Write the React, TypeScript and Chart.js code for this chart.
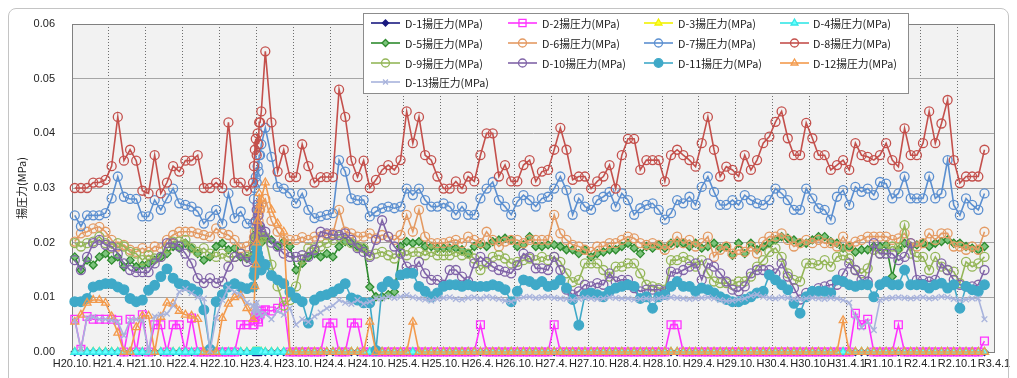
import React, { useEffect, useRef } from 'react';
import { Chart, registerables } from 'chart.js';
import { drawPoint } from 'chart.js/helpers';

Chart.register(...registerables);

// ---- tick labels (every 6 months from H20.10 to R3.4) ----
const LABELS = [
  'H20.10.', 'H21.4.', 'H21.10.', 'H22.4.', 'H22.10.', 'H23.4.', 'H23.10.', 'H24.4.', 'H24.10.',
  'H25.4.', 'H25.10.', 'H26.4.', 'H26.10.', 'H27.4.', 'H27.10.', 'H28.4.', 'H28.10.', 'H29.4.',
  'H29.10.', 'H30.4.', 'H30.10.', 'H31.4.1', 'R1.10.1', 'R2.4.1', 'R2.10.1', 'R3.4.1',
];
const Y_TICKS = [0, 0.01, 0.02, 0.03, 0.04, 0.05, 0.06];

// monthly measurements, month 0 = H20.10, measured mid-month
const MEASURE_DAY = 0.45;
// extra readings just after the March 2011 earthquake (month offsets)
const QUAKE_T = [29.6, 29.75, 29.9, 30.05, 30.2, 30.35, 30.6, 30.8];

const NAMES = [
  'D-1揚圧力(MPa)', 'D-2揚圧力(MPa)', 'D-3揚圧力(MPa)', 'D-4揚圧力(MPa)',
  'D-5揚圧力(MPa)', 'D-6揚圧力(MPa)', 'D-7揚圧力(MPa)', 'D-8揚圧力(MPa)',
  'D-9揚圧力(MPa)', 'D-10揚圧力(MPa)', 'D-11揚圧力(MPa)', 'D-12揚圧力(MPa)',
  'D-13揚圧力(MPa)',
];

const D1 = [
  0, 0, 0, 0, 0, 0, 0, 0, 0, 0, 0, 0, 0, 0, 0, 0, 0, 0, 0, 0,
  0, 0, 0, 0, 0, 0, 0, 0, 0, 0, 0, 0, 0, 0, 0, 0, 0, 0, 0, 0,
  0, 0, 0, 0, 0, 0, 0, 0, 0, 0, 0, 0, 0, 0, 0, 0, 0, 0, 0, 0,
  0, 0, 0, 0, 0, 0, 0, 0, 0, 0, 0, 0, 0, 0, 0, 0, 0, 0, 0, 0,
  0, 0, 0, 0, 0, 0, 0, 0, 0, 0, 0, 0, 0, 0, 0, 0, 0, 0, 0, 0,
  0, 0, 0, 0, 0, 0, 0, 0, 0, 0, 0, 0, 0, 0, 0, 0, 0, 0, 0, 0,
  0, 0, 0, 0, 0, 0, 0, 0, 0, 0, 0, 0, 0, 0, 0, 0, 0, 0, 0, 0,
  0, 0, 0, 0, 0, 0, 0, 0, 0,
];
const D1Q = [0, 0, 0, 0, 0, 0, 0, 0];

const D2 = [
  0.006, 0.0005, 0.0065, 0.006, 0.006, 0.006, 0.006, 0.0058, 0, 0.006,
  0, 0.0068, 0, 0.005, 0.005, 0, 0.005, 0.005, 0, 0.0062,
  0, 0, 0, 0, 0, 0, 0, 0.005, 0.005, 0.005,
  0.0075, 0.0077, 0.0075, 0.008, 0.0092, 0, 0, 0, 0, 0,
  0, 0.0053, 0.0053, 0, 0, 0.0053, 0.0053, 0, 0, 0,
  0, 0, 0, 0, 0, 0, 0, 0, 0, 0,
  0, 0, 0, 0, 0, 0, 0.005, 0, 0, 0,
  0, 0, 0, 0, 0, 0, 0, 0, 0.005, 0,
  0, 0, 0, 0, 0, 0, 0, 0, 0, 0,
  0, 0, 0, 0, 0, 0, 0, 0.005, 0.005, 0,
  0, 0, 0, 0, 0, 0, 0, 0, 0, 0,
  0, 0, 0, 0, 0, 0, 0, 0, 0, 0,
  0, 0, 0, 0, 0, 0, 0, 0.0071, 0.005, 0.006,
  0, 0, 0, 0, 0.005, 0, 0, 0, 0, 0,
  0, 0, 0, 0, 0, 0, 0, 0, 0.002,
];
const D2Q = [0.005, 0.006, 0.0065, 0.007, 0.006, 0.0055, 0.007, 0.0075];

const D3 = [
  0, 0, 0, 0, 0, 0, 0, 0, 0, 0, 0, 0, 0, 0, 0, 0, 0, 0, 0, 0,
  0, 0, 0, 0, 0, 0, 0, 0, 0, 0, 0, 0, 0, 0, 0, 0, 0, 0, 0, 0,
  0, 0, 0, 0, 0, 0, 0, 0, 0, 0, 0, 0, 0, 0, 0, 0, 0, 0, 0, 0,
  0, 0, 0, 0, 0, 0, 0, 0, 0, 0, 0, 0, 0, 0, 0, 0, 0, 0, 0, 0,
  0, 0, 0, 0, 0, 0, 0, 0, 0, 0, 0, 0, 0, 0, 0, 0, 0, 0, 0, 0,
  0, 0, 0, 0, 0, 0, 0, 0, 0, 0, 0, 0, 0, 0, 0, 0, 0, 0, 0, 0,
  0, 0, 0, 0, 0, 0, 0, 0, 0, 0, 0, 0, 0, 0, 0, 0, 0, 0, 0, 0,
  0, 0, 0, 0, 0, 0, 0, 0, 0,
];
const D3Q = [0, 0, 0, 0, 0, 0, 0, 0];

const D4 = [
  0, 0, 0, 0, 0, 0, 0, 0, 0, 0, 0, 0, 0, 0, 0, 0, 0, 0, 0, 0,
  0, 0, 0, 0, 0, 0, 0, 0, 0, 0, 0, 0, 0, 0, 0, 0, 0, 0, 0, 0,
  0, 0, 0, 0, 0, 0, 0, 0, 0, 0, 0, 0, 0, 0, 0, 0, 0, 0, 0, 0,
  0, 0, 0, 0, 0, 0, 0, 0, 0, 0, 0, 0, 0, 0, 0, 0, 0, 0, 0, 0,
  0, 0, 0, 0, 0, 0, 0, 0, 0, 0, 0, 0, 0, 0, 0, 0, 0, 0, 0, 0,
  0, 0, 0, 0, 0, 0, 0, 0, 0, 0, 0, 0, 0, 0, 0, 0, 0, 0, 0, 0,
  0, 0, 0, 0, 0, 0, 0, 0, 0, 0, 0, 0, 0, 0, 0, 0, 0, 0, 0, 0,
  0, 0, 0, 0, 0, 0, 0, 0, 0,
];
const D4Q = [0, 0, 0, 0, 0, 0, 0, 0];

const D5 = [
  0.0174, 0.015, 0.0168, 0.0159, 0.0174, 0.018, 0.0168, 0.0174, 0.0156, 0.0168,
  0.0156, 0.0159, 0.0162, 0.0168, 0.0174, 0.018, 0.0193, 0.019, 0.0199, 0.019,
  0.018, 0.0168, 0.0174, 0.0193, 0.0199, 0.0187, 0.019, 0.0174, 0.0171, 0.017,
  0.021, 0.021, 0.0205, 0.0193, 0.0202, 0.0193, 0.015, 0.0162, 0.0174, 0.018,
  0.0174, 0.018, 0.0174, 0.0193, 0.0202, 0.0199, 0.0193, 0.019, 0.0119, 0.0101,
  0.0101, 0.0105, 0.011, 0.0193, 0.0202, 0.0199, 0.0202, 0.0193, 0.0193, 0.019,
  0.019, 0.019, 0.019, 0.0187, 0.018, 0.0193, 0.0196, 0.0193, 0.0202, 0.0205,
  0.0208, 0.0205, 0.0193, 0.0196, 0.0211, 0.0193, 0.0193, 0.0196, 0.0196, 0.0193,
  0.0187, 0.0187, 0.018, 0.0187, 0.0174, 0.018, 0.0183, 0.0187, 0.0187, 0.0193,
  0.0199, 0.019, 0.018, 0.0193, 0.019, 0.0196, 0.019, 0.0199, 0.0199, 0.0199,
  0.0193, 0.0199, 0.019, 0.0193, 0.0199, 0.019, 0.0193, 0.0177, 0.0199, 0.018,
  0.0199, 0.0187, 0.0193, 0.0199, 0.0205, 0.0211, 0.0208, 0.0205, 0.0199, 0.0199,
  0.0205, 0.0211, 0.0211, 0.0202, 0.0199, 0.019, 0.0193, 0.0183, 0.0187, 0.0187,
  0.0193, 0.0193, 0.0196, 0.0138, 0.0187, 0.0199, 0.0193, 0.0196, 0.0199, 0.0193,
  0.0199, 0.0202, 0.0205, 0.0199, 0.0199, 0.0193, 0.019, 0.0187, 0.0193,
];
const D5Q = [0.018, 0.019, 0.02, 0.021, 0.022, 0.023, 0.021, 0.02];

const D6 = [
  0.0202, 0.0217, 0.022, 0.0226, 0.0229, 0.022, 0.0205, 0.0193, 0.0196, 0.0187,
  0.0183, 0.019, 0.0183, 0.0193, 0.019, 0.0205, 0.0214, 0.022, 0.022, 0.022,
  0.0217, 0.0214, 0.0211, 0.0226, 0.0217, 0.0214, 0.0205, 0.019, 0.0193, 0.02,
  0.026, 0.028, 0.024, 0.022, 0.0205, 0.0205, 0.0205, 0.021, 0.0205, 0.0211,
  0.0211, 0.0214, 0.0217, 0.026, 0.022, 0.0217, 0.0211, 0.0211, 0.0217, 0.0208,
  0.0214, 0.0211, 0.0205, 0.0214, 0.0251, 0.022, 0.026, 0.0211, 0.0199, 0.0199,
  0.0199, 0.0202, 0.0205, 0.0199, 0.0211, 0.0205, 0.0199, 0.022, 0.0205, 0.0193,
  0.0202, 0.0205, 0.0205, 0.0199, 0.0205, 0.0205, 0.0205, 0.0205, 0.0251, 0.0217,
  0.0205, 0.0196, 0.0193, 0.0187, 0.0183, 0.0193, 0.0193, 0.0199, 0.0199, 0.0205,
  0.0211, 0.0208, 0.0199, 0.0196, 0.0199, 0.0196, 0.0187, 0.0196, 0.0211, 0.0199,
  0.0205, 0.0193, 0.0199, 0.0211, 0.0174, 0.0187, 0.0193, 0.018, 0.0187, 0.0183,
  0.0193, 0.018, 0.0202, 0.0211, 0.0211, 0.0217, 0.0205, 0.0193, 0.0199, 0.0205,
  0.0199, 0.0205, 0.0199, 0.0199, 0.0193, 0.0211, 0.0193, 0.0202, 0.0205, 0.0211,
  0.0211, 0.0211, 0.0211, 0.0205, 0.0208, 0.0217, 0.0199, 0.0193, 0.0199, 0.0217,
  0.0205, 0.0217, 0.0217, 0.0193, 0.0193, 0.0187, 0.0193, 0.0187, 0.022,
];
const D6Q = [0.021, 0.022, 0.024, 0.023, 0.025, 0.024, 0.026, 0.027];

const D7 = [
  0.025, 0.023, 0.025, 0.025, 0.025, 0.0254, 0.0281, 0.0321, 0.0284, 0.028,
  0.028, 0.0248, 0.0248, 0.0278, 0.026, 0.0281, 0.0299, 0.0272, 0.0269, 0.0266,
  0.0257, 0.0235, 0.0248, 0.026, 0.0235, 0.029, 0.0245, 0.0257, 0.0235, 0.0235,
  0.036, 0.041, 0.0357, 0.0302, 0.0299, 0.029, 0.0272, 0.029, 0.026, 0.0245,
  0.0248, 0.0251, 0.0254, 0.0351, 0.033, 0.0281, 0.0278, 0.0278, 0.0248, 0.0257,
  0.0263, 0.0266, 0.0263, 0.0266, 0.0299, 0.0287, 0.0299, 0.0278, 0.0266, 0.0266,
  0.0272, 0.0266, 0.0251, 0.0266, 0.0251, 0.0251, 0.0281, 0.0299, 0.0311, 0.0278,
  0.0266, 0.0251, 0.0275, 0.0287, 0.0278, 0.0266, 0.0281, 0.0284, 0.0299, 0.0321,
  0.0296, 0.0251, 0.0281, 0.0266, 0.026, 0.0278, 0.0284, 0.0293, 0.0266, 0.029,
  0.0278, 0.0251, 0.0263, 0.0269, 0.0272, 0.026, 0.0242, 0.0254, 0.0278, 0.0272,
  0.0284, 0.0269, 0.0302, 0.0321, 0.0293, 0.0269, 0.0269, 0.0278, 0.0269, 0.0287,
  0.0278, 0.0272, 0.0269, 0.0278, 0.0299, 0.029, 0.0278, 0.026, 0.026, 0.0299,
  0.0281, 0.0263, 0.026, 0.0242, 0.0284, 0.0296, 0.0269, 0.0302, 0.0293, 0.0299,
  0.0287, 0.0311, 0.0308, 0.0281, 0.029, 0.0321, 0.0281, 0.0281, 0.0281, 0.0321,
  0.0281, 0.029, 0.0351, 0.0269, 0.025, 0.0281, 0.0269, 0.026, 0.029,
];
const D7Q = [0.028, 0.03, 0.032, 0.031, 0.034, 0.033, 0.036, 0.038];

const D8 = [
  0.03, 0.03, 0.03, 0.031, 0.031, 0.0315, 0.034, 0.043, 0.035, 0.037,
  0.035, 0.0295, 0.029, 0.036, 0.029, 0.031, 0.034, 0.033, 0.035, 0.035,
  0.036, 0.03, 0.03, 0.031, 0.03, 0.042, 0.031, 0.031, 0.0295, 0.031,
  0.042, 0.055, 0.042, 0.033, 0.037, 0.032, 0.032, 0.038, 0.034, 0.031,
  0.032, 0.032, 0.032, 0.048, 0.043, 0.035, 0.032, 0.035, 0.03, 0.0315,
  0.0333, 0.0342, 0.0333, 0.0351, 0.044, 0.0382, 0.043, 0.036, 0.0351, 0.0321,
  0.0299, 0.0299, 0.0312, 0.0299, 0.0321, 0.0312, 0.036, 0.04, 0.04, 0.0321,
  0.0342, 0.0312, 0.0312, 0.0342, 0.0351, 0.0312, 0.033, 0.0333, 0.037, 0.041,
  0.037, 0.0315, 0.0321, 0.0321, 0.0299, 0.0312, 0.0321, 0.0342, 0.0299, 0.036,
  0.039, 0.039, 0.0333, 0.0351, 0.0351, 0.0351, 0.0312, 0.036, 0.037, 0.036,
  0.0351, 0.0339, 0.0382, 0.043, 0.037, 0.0321, 0.0339, 0.0333, 0.0321, 0.036,
  0.0333, 0.0351, 0.0382, 0.0394, 0.0421, 0.044, 0.0391, 0.036, 0.036, 0.0419,
  0.0391, 0.036, 0.036, 0.0333, 0.0342, 0.0351, 0.0333, 0.0382, 0.036, 0.0357,
  0.0351, 0.036, 0.0382, 0.0351, 0.0339, 0.0409, 0.036, 0.036, 0.0382, 0.044,
  0.0382, 0.0418, 0.0461, 0.0351, 0.0309, 0.0321, 0.0321, 0.0321, 0.037,
];
const D8Q = [0.034, 0.037, 0.039, 0.036, 0.04, 0.038, 0.042, 0.044];

const D9 = [
  0.0199, 0.0193, 0.0199, 0.0202, 0.0211, 0.0199, 0.019, 0.0199, 0.0193, 0.0183,
  0.018, 0.0168, 0.0177, 0.0171, 0.0174, 0.019, 0.0202, 0.0202, 0.0205, 0.019,
  0.0183, 0.019, 0.018, 0.0174, 0.018, 0.0174, 0.0174, 0.018, 0.0174, 0.018,
  0.021, 0.021, 0.016, 0.012, 0.0085, 0.0095, 0.012, 0.017, 0.019, 0.019,
  0.0193, 0.0199, 0.0205, 0.0211, 0.0205, 0.0199, 0.0193, 0.019, 0.0177, 0.018,
  0.0183, 0.0177, 0.0171, 0.0183, 0.0177, 0.0183, 0.0183, 0.0177, 0.0183, 0.0177,
  0.0177, 0.0177, 0.0183, 0.0177, 0.018, 0.0171, 0.015, 0.0162, 0.0174, 0.0177,
  0.0171, 0.0162, 0.0165, 0.0168, 0.0171, 0.0168, 0.0174, 0.0168, 0.0174, 0.0165,
  0.0144, 0.0128, 0.0132, 0.0162, 0.0162, 0.0162, 0.015, 0.0138, 0.0156, 0.0156,
  0.0162, 0.0162, 0.0144, 0.0123, 0.012, 0.0117, 0.0114, 0.0168, 0.0168, 0.0174,
  0.0168, 0.0156, 0.0168, 0.0144, 0.0129, 0.0126, 0.0126, 0.0123, 0.0129, 0.0129,
  0.0138, 0.0156, 0.0168, 0.0183, 0.019, 0.0174, 0.0144, 0.0132, 0.0129, 0.0162,
  0.0162, 0.0159, 0.0168, 0.0156, 0.0174, 0.0177, 0.0171, 0.015, 0.0144, 0.0153,
  0.0187, 0.018, 0.0187, 0.0193, 0.019, 0.0232, 0.018, 0.0174, 0.0174, 0.015,
  0.0174, 0.0156, 0.015, 0.0147, 0.0126, 0.0165, 0.0156, 0.0162, 0.0174,
];
const D9Q = [0.019, 0.02, 0.021, 0.022, 0.021, 0.02, 0.022, 0.021];

const D10 = [
  0.0168, 0.015, 0.0174, 0.0199, 0.0205, 0.0196, 0.0193, 0.018, 0.0162, 0.015,
  0.0146, 0.0146, 0.0146, 0.0162, 0.0174, 0.0199, 0.0199, 0.0193, 0.018, 0.0162,
  0.0135, 0.0126, 0.0135, 0.0126, 0.0129, 0.0156, 0.0174, 0.018, 0.0165, 0.0168,
  0.023, 0.022, 0.02, 0.0193, 0.018, 0.0174, 0.0174, 0.0177, 0.0174, 0.0187,
  0.022, 0.0217, 0.0214, 0.0214, 0.0217, 0.0205, 0.019, 0.0183, 0.0174, 0.0205,
  0.0241, 0.0211, 0.0193, 0.018, 0.0156, 0.015, 0.0165, 0.0144, 0.0132, 0.0132,
  0.0123, 0.015, 0.015, 0.0138, 0.0129, 0.0162, 0.0174, 0.0165, 0.0156, 0.015,
  0.0147, 0.0144, 0.0159, 0.018, 0.0174, 0.0153, 0.0153, 0.015, 0.0174, 0.015,
  0.0114, 0.0105, 0.0111, 0.0123, 0.012, 0.0126, 0.0123, 0.0144, 0.0129, 0.0132,
  0.0132, 0.0117, 0.0111, 0.0114, 0.0114, 0.0114, 0.0111, 0.0147, 0.0144, 0.015,
  0.0156, 0.0162, 0.0132, 0.0162, 0.0156, 0.0144, 0.0129, 0.0114, 0.0111, 0.012,
  0.0144, 0.015, 0.015, 0.015, 0.0144, 0.0162, 0.0138, 0.0117, 0.0096, 0.0108,
  0.0111, 0.0117, 0.012, 0.0123, 0.0123, 0.0144, 0.0162, 0.015, 0.0132, 0.0129,
  0.0199, 0.018, 0.018, 0.018, 0.0168, 0.0174, 0.0199, 0.0132, 0.0132, 0.0129,
  0.0132, 0.0162, 0.015, 0.0132, 0.0123, 0.012, 0.012, 0.0123, 0.015,
];
const D10Q = [0.019, 0.021, 0.024, 0.026, 0.027, 0.025, 0.023, 0.022];

const D11 = [
  0.0092, 0.0092, 0.0098, 0.0119, 0.0122, 0.0125, 0.0125, 0.0119, 0.0114, 0.0098,
  0.0092, 0.0095, 0.0113, 0.0122, 0.0138, 0.0152, 0.0135, 0.0125, 0.0122, 0.0116,
  0.011, 0.0077, 0.0005, 0.0092, 0.0105, 0.0119, 0.0125, 0.0119, 0.0116, 0.0119,
  0.017, 0.016, 0.014, 0.0132, 0.0125, 0.011, 0.0099, 0.0092, 0.0053, 0.0095,
  0.0102, 0.0105, 0.011, 0.0116, 0.0125, 0.0099, 0.0095, 0.009, 0.009, 0.0003,
  0.0119, 0.0129, 0.0123, 0.0141, 0.0144, 0.0144, 0.012, 0.0111, 0.0101, 0.0108,
  0.012, 0.0123, 0.0123, 0.012, 0.0123, 0.012, 0.012, 0.012, 0.0123, 0.012,
  0.0114, 0.0092, 0.0111, 0.0132, 0.0129, 0.0123, 0.0129, 0.012, 0.0123, 0.0132,
  0.0117, 0.0096, 0.0049, 0.0105, 0.0108, 0.0105, 0.0101, 0.0111, 0.0117, 0.012,
  0.0123, 0.012, 0.0098, 0.0101, 0.008, 0.0101, 0.0105, 0.012, 0.0129, 0.012,
  0.012, 0.0111, 0.0117, 0.0114, 0.0108, 0.0101, 0.0096, 0.0092, 0.0092, 0.0096,
  0.0101, 0.0108, 0.0111, 0.0141, 0.0132, 0.0123, 0.0114, 0.0089, 0.0071, 0.0101,
  0.0111, 0.0111, 0.0111, 0.0108, 0.0132, 0.0129, 0.0123, 0.012, 0.0123, 0.0123,
  0.0101, 0.0123, 0.0129, 0.0123, 0.0123, 0.015, 0.0123, 0.0123, 0.0123, 0.0117,
  0.0123, 0.0126, 0.0117, 0.0123, 0.008, 0.012, 0.0114, 0.0111, 0.0123,
];
const D11Q = [0.014, 0.015, 0.017, 0.019, 0.018, 0.017, 0.016, 0.015];

const D12 = [
  0.0055, 0.0068, 0.009, 0.0095, 0.0095, 0.009, 0.0065, 0.0035, 0, 0,
  0.0045, 0.0066, 0.0066, 0, 0.0064, 0.009, 0.0088, 0.0075, 0.0068, 0.0066,
  0.006, 0, 0, 0, 0.0062, 0.0088, 0.01, 0.0103, 0.008, 0.006,
  0.029, 0.031, 0.026, 0.0235, 0.022, 0, 0, 0, 0, 0,
  0, 0, 0, 0, 0, 0, 0, 0, 0.0055, 0,
  0, 0, 0, 0, 0, 0.0055, 0, 0, 0, 0,
  0, 0, 0, 0, 0, 0, 0, 0, 0, 0,
  0, 0, 0, 0, 0, 0, 0, 0, 0, 0,
  0, 0, 0, 0, 0, 0, 0, 0, 0, 0,
  0, 0, 0, 0, 0, 0, 0, 0, 0, 0,
  0, 0, 0, 0, 0, 0, 0, 0, 0, 0,
  0, 0, 0, 0, 0, 0, 0, 0, 0, 0,
  0, 0, 0, 0, 0, 0.0058, 0, 0, 0, 0,
  0, 0, 0, 0, 0, 0, 0, 0, 0, 0,
  0, 0, 0, 0, 0, 0, 0, 0, 0,
];
const D12Q = [0.008, 0.012, 0.016, 0.02, 0.024, 0.026, 0.027, 0.028];

const D13 = [
  0.0058, 0.0005, 0.0062, 0.0064, 0.006, 0.006, 0.0058, 0.0055, 0.003, 0.0058,
  0.006, 0.0058, 0.0002, 0.0065, 0.0068, 0.007, 0.0085, 0.011, 0.0115, 0.0108,
  0.01, 0.0098, 0.0002, 0.0062, 0.0095, 0.0118, 0.011, 0.0105, 0.009, 0.0085,
  0.007, 0.007, 0.006, 0.0075, 0.0068, 0.008, 0.005, 0.006, 0.0055, 0.0065,
  0.0072, 0.008, 0.0085, 0.0095, 0.009, 0.0088, 0.0095, 0.0088, 0.0092, 0.0098,
  0.0098, 0.0101, 0.0099, 0.0101, 0.0104, 0.01, 0.0098, 0.0096, 0.0094, 0.0097,
  0.0099, 0.01, 0.0097, 0.0096, 0.0099, 0.01, 0.0098, 0.0101, 0.0099, 0.0097,
  0.0094, 0.0092, 0.0097, 0.01, 0.0101, 0.0099, 0.01, 0.0101, 0.0099, 0.0098,
  0.0097, 0.0095, 0.0097, 0.0099, 0.0098, 0.0097, 0.0098, 0.01, 0.0099, 0.0098,
  0.0098, 0.0096, 0.0097, 0.0098, 0.0096, 0.0098, 0.0099, 0.01, 0.0099, 0.0098,
  0.0097, 0.0098, 0.0099, 0.01, 0.0098, 0.0095, 0.0093, 0.0094, 0.0096, 0.0098,
  0.0103, 0.0105, 0.0101, 0.0099, 0.0098, 0.01, 0.0099, 0.0097, 0.0096, 0.0098,
  0.0099, 0.0098, 0.0097, 0.0099, 0.0098, 0.0095, 0.009, 0.0065, 0.0045, 0.0055,
  0.004, 0.0095, 0.0098, 0.0099, 0.01, 0.0099, 0.0098, 0.0099, 0.01, 0.0098,
  0.0099, 0.0101, 0.01, 0.0097, 0.0095, 0.0096, 0.0098, 0.0098, 0.006,
];
const D13Q = [0.007, 0.008, 0.0085, 0.009, 0.008, 0.0075, 0.007, 0.0065];

const MONTHLY = [D1, D2, D3, D4, D5, D6, D7, D8, D9, D10, D11, D12, D13];
const QUAKE = [D1Q, D2Q, D3Q, D4Q, D5Q, D6Q, D7Q, D8Q, D9Q, D10Q, D11Q, D12Q, D13Q];

// ---- styles ----
type Sty = { color: string; shape: string; fill: string; r: number };
const STYLES: Sty[] = [
  { color: '#1A1A80', shape: 'rectRot', fill: '#1A1A80', r: 3.5 },
  { color: '#FF33FF', shape: 'rect', fill: 'rgba(0,0,0,0)', r: 5.5 },
  { color: '#F2F200', shape: 'triangle', fill: '#FFFF33', r: 4.5 },
  { color: '#33E6E6', shape: 'triangle', fill: '#66FFFF', r: 4.5 },
  { color: '#2E8B2E', shape: 'rectRot', fill: '#7CC47C', r: 4 },
  { color: '#E49A62', shape: 'circle', fill: 'rgba(0,0,0,0)', r: 4.5 },
  { color: '#5B8FD0', shape: 'circle', fill: 'rgba(0,0,0,0)', r: 4.5 },
  { color: '#C4504C', shape: 'circle', fill: 'rgba(0,0,0,0)', r: 4.5 },
  { color: '#94B658', shape: 'circle', fill: 'rgba(0,0,0,0)', r: 4.5 },
  { color: '#8064A8', shape: 'circle', fill: 'rgba(0,0,0,0)', r: 4.5 },
  { color: '#3FA9C8', shape: 'circle', fill: '#3FA9C8', r: 4.8 },
  { color: '#F39A4C', shape: 'triangle', fill: 'rgba(0,0,0,0)', r: 4.5 },
  { color: '#A8B3DC', shape: 'crossRot', fill: 'rgba(0,0,0,0)', r: 4 },
];

// legend layout (inside plot, 4 columns)
const LEG_BOX = { x: 363.5, y: 13.5, w: 545, h: 80 };
const LEG_LINE_X = [371, 508, 644, 780];
const LEG_TEXT_X = [405, 542, 678, 813];
const LEG_ROW_Y = [23, 43, 63, 82];
const TEXT_FONT = '"Noto Sans CJK JP", "Noto Sans", sans-serif';

function buildPoints(monthly: number[], quake: number[]) {
  const pts: { x: number; y: number }[] = monthly.map((v, i) => ({ x: i + MEASURE_DAY, y: v }));
  quake.forEach((v, i) => pts.push({ x: QUAKE_T[i], y: v }));
  pts.sort((a, b) => a.x - b.x);
  return pts;
}

const bgPlugin = {
  id: 'plotBg',
  beforeDraw(chart: any) {
    const { ctx, chartArea: a } = chart;
    ctx.save();
    ctx.fillStyle = '#FFFFFF';
    ctx.fillRect(0, 0, chart.width, chart.height);
    ctx.fillStyle = '#F2F2F2';
    ctx.fillRect(a.left, a.top, a.right - a.left, a.bottom - a.top);
    ctx.restore();
  },
  beforeDatasetsDraw(chart: any) {
    const { ctx, chartArea: a } = chart;
    ctx.save();
    ctx.strokeStyle = '#808080';
    ctx.lineWidth = 1;
    ctx.strokeRect(Math.round(a.left) + 0.5, Math.round(a.top) + 0.5, Math.round(a.right - a.left), Math.round(a.bottom - a.top));
    ctx.restore();
  },
};

const legendPlugin = {
  id: 'boxLegend',
  afterDraw(chart: any) {
    const { ctx } = chart;
    ctx.save();
    ctx.fillStyle = '#FFFFFF';
    ctx.fillRect(LEG_BOX.x, LEG_BOX.y, LEG_BOX.w, LEG_BOX.h);
    ctx.strokeStyle = '#8C8C8C';
    ctx.lineWidth = 1;
    ctx.strokeRect(LEG_BOX.x, LEG_BOX.y, LEG_BOX.w, LEG_BOX.h);
    chart.data.datasets.forEach((ds: any, i: number) => {
      const col = i % 4;
      const row = Math.floor(i / 4);
      const lx = LEG_LINE_X[col];
      const y = LEG_ROW_Y[row];
      ctx.strokeStyle = ds.borderColor;
      ctx.lineWidth = 1.6;
      ctx.setLineDash([]);
      ctx.beginPath();
      ctx.moveTo(lx, y);
      ctx.lineTo(lx + 29, y);
      ctx.stroke();
      ctx.fillStyle = ds.pointBackgroundColor;
      ctx.strokeStyle = ds.pointBorderColor;
      ctx.lineWidth = ds.pointBorderWidth;
      drawPoint(ctx, { pointStyle: ds.pointStyle, radius: ds.pointRadius - 0.5, borderWidth: ds.pointBorderWidth, rotation: 0 } as any, lx + 14.5, y);
      ctx.fillStyle = '#1A1A1A';
      ctx.font = `10.8px ${TEXT_FONT}`;
      ctx.textBaseline = 'middle';
      ctx.textAlign = 'left';
      ctx.fillText(ds.label, LEG_TEXT_X[col], y + 0.5);
    });
    ctx.restore();
  },
};

export default function App() {
  const ref = useRef<HTMLCanvasElement | null>(null);

  useEffect(() => {
    if (!ref.current) return;
    const datasets = MONTHLY.map((m, i) => {
      const s = STYLES[i];
      return {
        label: NAMES[i],
        data: buildPoints(m, QUAKE[i]),
        borderColor: s.color,
        backgroundColor: s.color,
        borderWidth: 1.6,
        pointStyle: s.shape,
        pointRadius: s.r,
        pointBorderColor: s.color,
        pointBackgroundColor: s.fill,
        pointBorderWidth: 1.3,
        tension: 0,
        fill: false,
        clip: false as any,
        order: 13 - i,
      };
    });

    const chart = new Chart(ref.current, {
      type: 'line',
      data: { datasets },
      plugins: [bgPlugin, legendPlugin],
      options: {
        responsive: false,
        animation: false,
        events: [],
        layout: { autoPadding: false, padding: { left: 0, top: 24, right: 23, bottom: 0 } },
        plugins: { legend: { display: false }, tooltip: { enabled: false } },
        scales: {
          x: {
            type: 'linear',
            min: 0,
            max: 150,
            afterBuildTicks: (scale: any) => {
              scale.ticks = LABELS.map((_, i) => ({ value: i * 6 }));
            },
            afterFit: (scale: any) => {
              scale.height = 26;
            },
            ticks: {
              autoSkip: false,
              maxRotation: 0,
              minRotation: 0,
              padding: 5,
              color: '#222',
              font: { family: '"Liberation Sans", Arial, sans-serif', size: 11 },
              callback: (v: any) => LABELS[Math.round(Number(v) / 6)] ?? '',
            },
            grid: { color: '#6E6E6E', lineWidth: 1, drawTicks: false },
            border: { display: true, color: '#808080', dash: [1, 2] },
          },
          y: {
            type: 'linear',
            min: 0,
            max: 0.06,
            afterBuildTicks: (scale: any) => {
              scale.ticks = Y_TICKS.map((v) => ({ value: v }));
            },
            afterFit: (scale: any) => {
              scale.width = 72;
            },
            ticks: {
              padding: 17,
              color: '#222',
              font: { family: '"Liberation Sans", Arial, sans-serif', size: 11 },
              callback: (v: any) => Number(v).toFixed(2),
            },
            grid: { color: '#A6A6A6', lineWidth: 1, drawTicks: false },
            border: { display: true, color: '#808080' },
            title: {
              display: true,
              text: '揚圧力(MPa)',
              color: '#222',
              font: { family: TEXT_FONT, size: 11 },
              padding: { top: 15, bottom: 0 },
            },
          },
        },
      },
    } as any);
    return () => chart.destroy();
  }, []);

  return (
    <div style={{ position: 'absolute', left: 0, top: 0, width: 1017, height: 378, background: '#fff', overflow: 'hidden' }}>
      <canvas ref={ref} width={1017} height={378} style={{ position: 'absolute', left: 0, top: 0, width: 1017, height: 378 }} />
      <div
        style={{
          position: 'absolute', left: 8, top: 8, width: 1001, height: 400,
          border: '1px solid #C4C4C4', borderRadius: 8, pointerEvents: 'none', boxSizing: 'border-box',
        }}
      />
    </div>
  );
}
